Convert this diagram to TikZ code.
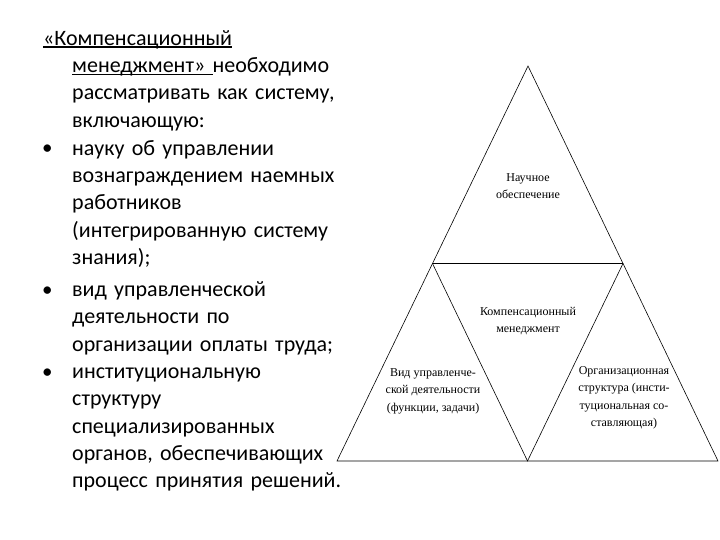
\documentclass[tikz,border=0pt]{standalone}
\usepackage{fontspec}
\setmainfont{Carlito}
\newfontfamily\trifont{Liberation Serif}
\newsavebox\myulbox
\newcommand\myul[1]{\sbox\myulbox{#1}\rlap{\rule[-2.4pt]{\wd\myulbox}{1.2pt}}\usebox\myulbox}
\newcommand\txline[1]{\leavevmode\strut#1\par}
\newcommand\parsetup{\parindent=0pt\relax\parskip=0pt\relax\rightskip=0pt plus 1fil\relax}
\begin{document}
\begin{tikzpicture}[x=1pt,y=-1pt,
  body/.style={anchor=north west, inner sep=0pt, text width=330pt,
    font=\fontsize{22}{27.4}\selectfont},
  bul/.style={anchor=base west, inner sep=0pt, font=\fontsize{21}{27.4}\selectfont},
  tri/.style={line width=0.6pt, black},
  lab/.style={align=center, inner sep=0pt, font=\trifont\fontsize{12}{17.5}\selectfont}]
\useasboundingbox (0,0) rectangle (720,540);
% text block
\node[body] (intro) at (43,25.82) {\parsetup\txline{\myul{«Компенсационный}}%
  \leftskip=29pt\relax
  \txline{\myul{менеджмент»\ }необходимо}%
  \txline{рассматривать как систему,}%
  \txline{включающую:}};
\node[bul] (b1) at (42,155) {•};
\node[body] (i1) at (72,135.82) {\parsetup\txline{науку об управлении}%
  \txline{вознаграждением наемных}%
  \txline{работников}%
  \txline{(интегрированную систему}%
  \txline{знания);}};
\node[bul] (b2) at (42,296) {•};
\node[body] (i2) at (72,276.82) {\parsetup\txline{вид управленческой}%
  \txline{деятельности по}%
  \txline{организации оплаты труда;}};
\node[bul] (b3) at (42,378) {•};
\node[body] (i3) at (72,358.82) {\parsetup\txline{институциональную}%
  \txline{структуру}%
  \txline{специализированных}%
  \txline{органов, обеспечивающих}%
  \txline{процесс принятия решений.}};
% pyramid
\coordinate (A) at (528,66);
\coordinate (L) at (337,461);
\coordinate (R) at (718,461);
\coordinate (ML) at (432.5,263.5);
\coordinate (MR) at (623,263.5);
\coordinate (MB) at (527.5,461);
\draw[tri] (A) -- (L) -- (R) -- cycle;
\draw[tri] (ML) -- (MR) -- (MB) -- cycle;
\node[lab] (sci) at (528,186) {Научное\\обеспечение};
\node[lab] (comp) at (528,321) {Компенсационный\\менеджмент};
\node[lab] (vid) at (433,391) {Вид управленче-\\ской деятельности\\(функции, задачи)};
\node[lab] (org) at (624,398) {Организационная\\структура (инсти-\\туциональная со-\\ставляющая)};
\end{tikzpicture}
\end{document}
